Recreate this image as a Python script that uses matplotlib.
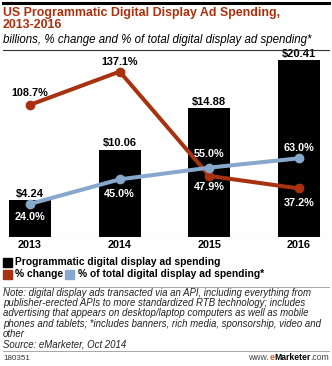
import matplotlib.pyplot as plt
from matplotlib.patches import Rectangle
from matplotlib.lines import Line2D

plt.rcParams["font.family"] = ["Liberation Sans", "DejaVu Sans"]

# Spending data, 2013-2016
years = ["2013", "2014", "2015", "2016"]
spending = [4.24, 10.06, 14.88, 20.41]          # $ billions
pct_change = [108.7, 137.1, 47.9, 37.2]         # % change
pct_total = [24.0, 45.0, 55.0, 63.0]            # % of total digital display ad spending

W, H = 332, 366
fig = plt.figure(figsize=(W / 100, H / 100), dpi=100)
fig.patch.set_facecolor("white")

RED = "#a8310f"
BLUE = "#87a7cc"


def fx(px):
    return px / W


def fy(py):
    return 1 - py / H


def hline(y, x0, x1, lw, color):
    fig.add_artist(Line2D([fx(x0), fx(x1)], [fy(y), fy(y)], lw=lw, color=color,
                          transform=fig.transFigure))


# header
hline(2.5, 3, 329, 2.2, "black")
fig.text(fx(3), fy(13), "US Programmatic Digital Display Ad Spending,", color=RED,
         fontsize=8.9, fontweight="bold", va="center", ha="left")
fig.text(fx(3), fy(25.5), "2013-2016", color=RED, fontsize=8.9, fontweight="bold",
         va="center", ha="left")
fig.text(fx(3), fy(40), "billions, % change and % of total digital display ad spending*",
         fontsize=8.3, style="italic", va="center", ha="left")
hline(50, 3, 329, 0.8, "#333333")

# chart axes: baseline at y=237px, top at y=50px
ax = fig.add_axes([fx(5), fy(237), fx(322), (237 - 50) / H])
x = list(range(len(years)))
ax.bar(x, spending, width=0.47, color="black", zorder=1)
ax.set_xlim(-0.279, 3.312)
ax.set_ylim(0, 187 / 8.67)
ax.axhline(0, color="#bbbbbb", lw=0.8)
ax.set_xticks(x)
ax.set_xticklabels(years, fontsize=7.8, fontweight="bold")
ax.tick_params(axis="x", length=0, pad=2.5)
ax.set_yticks([])
for s in ax.spines.values():
    s.set_visible(False)

# both percentage lines share one scale
ax2 = ax.twinx()
ax2.set_ylim(-5 / 1.17, (187 - 5) / 1.17)
ax2.set_yticks([])
ax2.patch.set_alpha(0)
for s in ax2.spines.values():
    s.set_visible(False)

ax2.plot(x, pct_change, color=RED, lw=2.9, marker="o", ms=6, zorder=3)
ax2.plot(x, pct_total, color=BLUE, lw=2.9, marker="o", ms=6, zorder=4)

# dollar labels above bars
for xi, v in zip(x, spending):
    ax2.annotate(f"${v:.2f}", (xi, v), xycoords=ax.transData, xytext=(0, 1),
                 textcoords="offset points", ha="center", va="bottom",
                 fontsize=8, fontweight="bold", zorder=5)

chg_offsets = [8.6, 7.2, -8, -10.8]
for xi, v, off in zip(x, pct_change, chg_offsets):
    col = "black" if off > 0 else "white"
    ax2.annotate(f"{v:.1f}%", (xi, v), xytext=(0, off), textcoords="offset points",
                 ha="center", va="center", fontsize=7.8, fontweight="bold", color=col,
                 zorder=5)

tot_offsets = [-9.4, -10.8, 10, 7.2]
for xi, v, off in zip(x, pct_total, tot_offsets):
    ax2.annotate(f"{v:.1f}%", (xi, v), xytext=(0, off), textcoords="offset points",
                 ha="center", va="center", fontsize=7.8, fontweight="bold",
                 color="white", zorder=5)


# legend
def swatch(x0, y0, color):
    fig.add_artist(Rectangle((fx(x0), fy(y0 + 4.5)), fx(9), 9 / H, color=color,
                             transform=fig.transFigure))


swatch(3, 262, "black")
fig.text(fx(15), fy(262), "Programmatic digital display ad spending", fontsize=7.4,
         fontweight="bold", va="center", ha="left")
swatch(3, 274, RED)
fig.text(fx(15), fy(274), "% change", fontsize=7.4, fontweight="bold", va="center", ha="left")
swatch(65, 274, BLUE)
fig.text(fx(78), fy(274), "% of total digital display ad spending*", fontsize=7.4,
         fontweight="bold", va="center", ha="left")

hline(287, 3, 329, 0.6, "#999999")

# footnote
note = ("Note: digital display ads transacted via an API, including everything from\n"
        "publisher-erected APIs to more standardized RTB technology; includes\n"
        "advertising that appears on desktop/laptop computers as well as mobile\n"
        "phones and tablets; *includes banners, rich media, sponsorship, video and\n"
        "other\n"
        "Source: eMarketer, Oct 2014")
fig.text(fx(3), fy(288), note, fontsize=6.9, style="italic", va="top", ha="left",
         linespacing=1.03, color="#222222")

hline(351, 3, 329, 0.6, "#999999")
fig.text(fx(3), fy(358), "180351", fontsize=5.8, color="#333333", va="center", ha="left")

# site name, built right to left
renderer = fig.canvas.get_renderer()
right = fx(329)
for txt, col, wt in [(".com", "#444444", "normal"), ("Marketer", "black", "bold"),
                     ("e", "#e0501a", "bold"), ("www.", "#444444", "normal")]:
    t = fig.text(right, fy(358), txt, fontsize=6.2, color=col, fontweight=wt,
                 va="center", ha="right")
    bb = t.get_window_extent(renderer)
    right -= bb.width / fig.bbox.width

fig.savefig("out.png", dpi=100)
